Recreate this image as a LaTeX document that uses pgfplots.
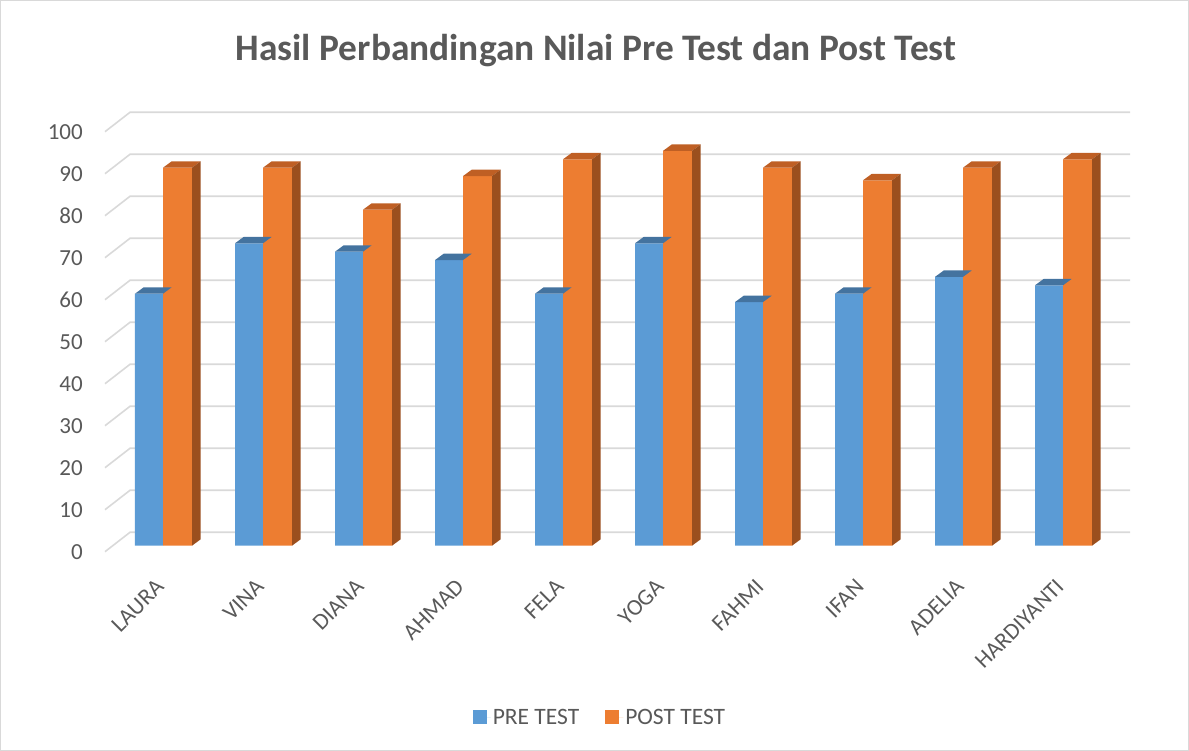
\documentclass[border=0pt]{standalone}
\usepackage{pgfplots}
\pgfplotsset{compat=1.18}
\usepackage{pgfplotstable}
\usepackage{fontspec}
\setmainfont{Carlito}

\definecolor{preblue}{HTML}{5B9BD5}
\definecolor{pretopc}{HTML}{44739F}
\definecolor{postor}{HTML}{ED7D31}
\definecolor{posttopc}{HTML}{BF5F24}
\definecolor{postsidec}{HTML}{9B4F1E}
\definecolor{gridc}{HTML}{D9D9D9}
\definecolor{txt}{HTML}{595959}

\pgfplotstableread{
x pre post
0 60 90
1 72 90
2 70 80
3 68 88
4 60 92
5 72 94
6 58 90
7 60 87
8 64 90
9 62 92
}\scores

\pgfplotstableread{
x dy
-0.58 -1.43
-0.33 3.19
9.67 3.19
}\gridpath

\newdimen\barh
\newdimen\sidelow

\pgfdeclareplotmark{pretopmark}{%
  \pgfsetfillcolor{pretopc}%
  \pgfpathmoveto{\pgfqpoint{-28pt}{0pt}}%
  \pgfpathlineto{\pgfqpoint{0pt}{0pt}}%
  \pgfpathlineto{\pgfqpoint{8.7pt}{6.4pt}}%
  \pgfpathlineto{\pgfqpoint{-19.3pt}{6.4pt}}%
  \pgfpathclose
  \pgfusepath{fill}%
}

\pgfdeclareplotmark{posttopmark}{%
  \sidelow=6.4pt
  \advance\sidelow by -\barh
  \pgfsetfillcolor{posttopc}%
  \pgfpathmoveto{\pgfqpoint{0pt}{0pt}}%
  \pgfpathlineto{\pgfqpoint{29pt}{0pt}}%
  \pgfpathlineto{\pgfqpoint{37.7pt}{6.4pt}}%
  \pgfpathlineto{\pgfqpoint{8.7pt}{6.4pt}}%
  \pgfpathclose
  \pgfusepath{fill}%
  \pgfsetfillcolor{postsidec}%
  \pgfpathmoveto{\pgfqpoint{29pt}{0pt}}%
  \pgfpathlineto{\pgfqpoint{37.7pt}{6.4pt}}%
  \pgfpathlineto{\pgfqpoint{37.7pt}{\sidelow}}%
  \pgfpathlineto{\pgfqpoint{29pt}{-\barh}}%
  \pgfpathclose
  \pgfusepath{fill}%
}

\begin{document}
\begin{tikzpicture}
\useasboundingbox (-103pt,-196.9pt) rectangle (1086pt,554.1pt);
\draw[gridc, line width=1pt] (-102.5pt,-196.4pt) rectangle (1085.5pt,553.6pt);
\begin{axis}[
  x=100pt, y=4.2pt,
  xmin=-0.6, xmax=9.7, ymin=-2, ymax=104,
  clip=false,
  axis line style={draw=none},
  tick style={draw=none},
  major tick length=0pt,
  xtick={0,...,9},
  xticklabels={LAURA,VINA,DIANA,AHMAD,FELA,YOGA,FAHMI,IFAN,ADELIA,HARDIYANTI},
  ytick={-1.43,8.57,18.57,28.57,38.57,48.57,58.57,68.57,78.57,88.57,98.57},
  yticklabels={0,10,20,30,40,50,60,70,80,90,100},
  /pgf/number format/assume math mode=true,
  tick label style={font=\fontsize{23}{27}\selectfont, text=txt},
  xticklabel style={xshift=-3pt, yshift=-29pt, rotate=45, anchor=east, inner sep=0pt},
  yticklabel style={anchor=east, inner sep=0pt, xshift=-20pt},
  legend style={at={(axis description cs:0.4825,-0.367)}, anchor=center,
    draw=none, fill=none, legend columns=2,
    font=\fontsize{23.5}{28}\selectfont, text=txt,
    /tikz/every even column/.append style={column sep=24pt}},
]
\pgfplotsinvokeforeach{0,10,20,30,40,50,60,70,80,90,100}{
  \addplot[gridc, line width=1.6pt, forget plot] table[x=x, y expr=\thisrow{dy}+#1]{\gridpath};
}
\addplot[ybar, bar width=28pt, bar shift=-14pt, fill=preblue, draw=none,
  legend image code/.code={\fill[preblue] (0pt,-7pt) rectangle (14pt,7pt); \path (0pt,0pt) -- (18pt,0pt);}]
  table[x=x,y=pre]{\scores};
\addplot[scatter, only marks, mark=pretopmark, forget plot,
  scatter/@pre marker code/.code={}, scatter/@post marker code/.code={}]
  table[x=x,y=pre]{\scores};
\addplot[ybar, bar width=29pt, bar shift=14.5pt, fill=postor, draw=none,
  legend image code/.code={\fill[postor] (0pt,-7pt) rectangle (14pt,7pt); \path (0pt,0pt) -- (18pt,0pt);}]
  table[x=x,y=post]{\scores};
\addplot[scatter, only marks, mark=posttopmark, forget plot,
  point meta=y, point meta min=0, point meta max=1000,
  scatter/@pre marker code/.code={%
    \global\barh=\pgfplotspointmetatransformed pt
    \global\barh=4.2\barh},
  scatter/@post marker code/.code={}]
  table[x=x,y=post]{\scores};
\legend{PRE TEST, POST TEST}
\end{axis}
\node[anchor=base, text=txt, font=\fontsize{37.4}{44}\selectfont\bfseries] at (493pt,493.4pt) {Hasil Perbandingan Nilai Pre Test dan Post Test};
\end{tikzpicture}
\end{document}
